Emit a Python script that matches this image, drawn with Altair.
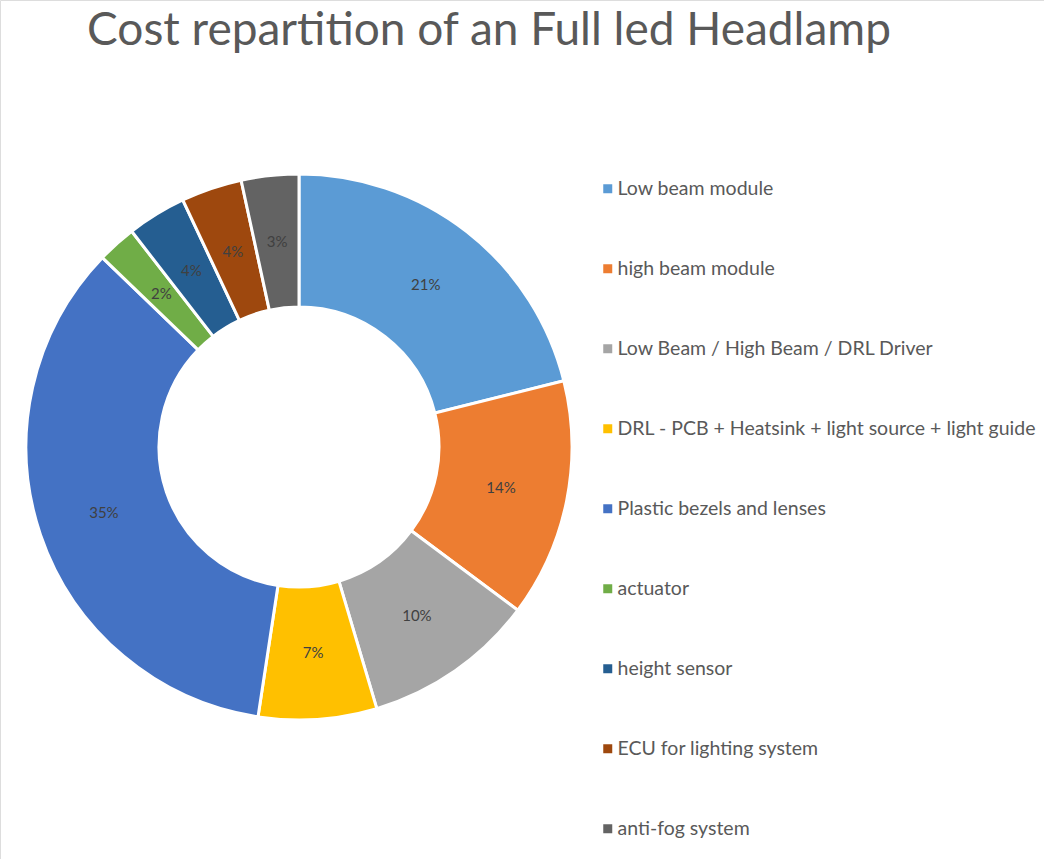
import altair as alt
import pandas as pd

categories = [
    "Low beam module",
    "high beam module",
    "Low Beam / High Beam / DRL Driver",
    "DRL - PCB + Heatsink + light source + light guide",
    "Plastic bezels and lenses",
    "actuator",
    "height sensor",
    "ECU for lighting system",
    "anti-fog system",
]
# slice sizes
values = [21.1, 14.1, 10.2, 7.0, 34.8, 2.3, 3.5, 3.6, 3.4]
# percentage labels as printed on the slices
labels_txt = ["21%", "14%", "10%", "7%", "35%", "2%", "4%", "4%", "3%"]
colors = ["#5B9BD5", "#ED7D31", "#A5A5A5", "#FFC000", "#4472C4",
          "#70AD47", "#255E91", "#9E480E", "#636363"]
title_text = "Cost repartition of an Full led Headlamp"

df = pd.DataFrame({
    "category": categories,
    "value": values,
    "order": list(range(len(categories))),
    "label": labels_txt,
})

CX, CY = 299, 447

base = alt.Chart(df).encode(
    theta=alt.Theta("value:Q", stack=True),
    order=alt.Order("order:Q"),
    x=alt.value(CX),
    y=alt.value(CY),
)

arcs = base.mark_arc(innerRadius=140, outerRadius=273, stroke="white", strokeWidth=3).encode(
    color=alt.Color(
        "category:N",
        scale=alt.Scale(domain=categories, range=colors),
        sort=categories,
        legend=alt.Legend(
            title=None,
            orient="none",
            legendX=598,
            legendY=179,
            padding=0,
            symbolType="square",
            symbolSize=81,
            symbolStrokeWidth=0,
            labelFontSize=19.5,
            labelFont="Lato",
            labelColor="#595959",
            labelLimit=600,
            labelOffset=0,
            rowPadding=59,
        ),
    )
)

labels = base.mark_text(radius=206, font="Lato", fontSize=15, color="#404040").encode(
    text="label:N"
)

title = alt.Chart(pd.DataFrame({"t": [title_text]})).mark_text(
    font="Lato", fontSize=46, color="#595959", align="center", baseline="middle"
).encode(text="t:N", x=alt.value(489), y=alt.value(31))

chart = alt.layer(arcs, labels, title).properties(
    width=1044, height=859, autosize=alt.AutoSizeParams(type="none"), padding=0
).configure_view(stroke=None).configure(background="white")

chart.save("out.html", embed_options={"renderer": "svg", "actions": False})
